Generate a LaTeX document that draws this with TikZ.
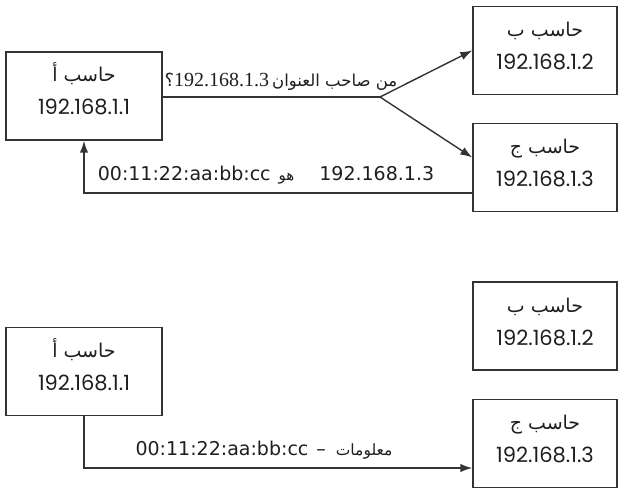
\documentclass[tikz,border=0pt]{standalone}
\usepackage{fontspec}
\setmainfont{DejaVu Sans}
\TeXXeTstate=1
\newfontfamily\arabicfont[Script=Arabic]{DejaVu Sans}
\newfontfamily\numfont{Poppins}
\newfontfamily\serifnum{Liberation Serif}
\newfontfamily\macfont{DejaVu Sans}
\usetikzlibrary{arrows.meta}
\definecolor{linec}{HTML}{333333}
\definecolor{textc}{HTML}{1E1E1E}
\tikzset{
  pc/.style={draw=linec, line width=1.4pt, minimum width=144pt, minimum height=88pt, inner sep=0pt},
  conn/.style={draw=linec, line width=1.4pt},
  tip/.style={-{Latex[length=12pt,width=8.5pt]}},
  lbl/.style={inner sep=0pt, text=textc, anchor=base},
  artxt/.style={lbl, font=\arabicfont\fontsize{19}{22}\selectfont},
  iptxt/.style={lbl, font=\numfont\fontsize{21}{24}\selectfont},
  mactxt/.style={lbl, font=\macfont\fontsize{19}{22}\selectfont}
}
\begin{document}
\begin{tikzpicture}[x=1pt,y=-1pt]
\path[use as bounding box] (0,0) rectangle (620,489);
% top half boxes
\node[pc, minimum width=156pt] (A) at (84,96) {};
\node[pc] (B) at (545,50.5) {};
\node[pc] (C) at (545,167.5) {};
% bottom half boxes
\node[pc, minimum width=156pt] (A2) at (84,371.5) {};
\node[pc] (B2) at (545,326) {};
\node[pc] (C2) at (545,443.5) {};
% box texts
\foreach \n/\ar/\ip in {A/أ/192.168.1.1, B/ب/192.168.1.2, C/ج/192.168.1.3, A2/أ/192.168.1.1, B2/ب/192.168.1.2, C2/ج/192.168.1.3}{
  \node[artxt] (\n-name) at ([yshift=14pt]\n.center) {\beginR حاسب \ar\endR};
  \node[iptxt] (\n-ip) at ([yshift=-19pt]\n.center) {\ip};
}
% top connectors
\coordinate (J) at (380,97);
\draw[conn] (A.east |- J) -- (J);
\draw[conn,tip] (J) -- (B.west);
\draw[conn,tip] (J) -- ([yshift=10pt]C.west);
\draw[conn,tip] ([yshift=-25.5pt]C.west) -| (A.south);
% bottom connector
\draw[conn,tip] (A2.south) |- ([yshift=-24.5pt]C2.west);
% labels
\node[lbl] (q) at (281,87) {{\arabicfont\fontsize{18}{20}\selectfont ؟}{\serifnum\fontsize{20}{24}\selectfont 192.168.1.3}\hspace{3pt}{\arabicfont\fontsize{16.5}{18}\selectfont\beginR من صاحب العنوان\endR}};
\node[mactxt] (r) at (266,180) {00:11:22:aa:bb:cc\hspace{8pt}{\arabicfont\fontsize{15}{16}\selectfont\beginR هو\endR}\hspace{25pt}192.168.1.3};
\node[mactxt] (d) at (264,455) {00:11:22:aa:bb:cc\hspace{8pt}–\hspace{10pt}{\arabicfont\fontsize{15.5}{16}\selectfont\beginR معلومات\endR}};
\end{tikzpicture}
\end{document}
